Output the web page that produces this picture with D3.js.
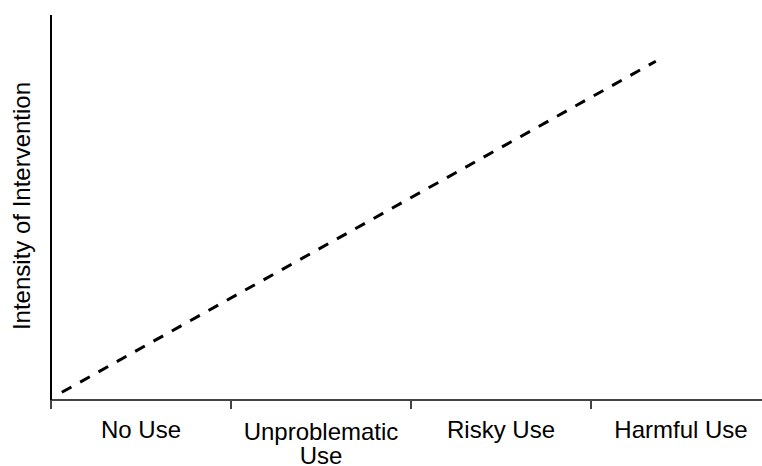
<!DOCTYPE html>
<html><head><meta charset="utf-8">
<script src="https://cdn.jsdelivr.net/npm/d3@7"></script>
<style>body{margin:0;background:#fff}svg{display:block}text{font-family:"Liberation Sans",Arial,sans-serif;fill:#000}</style>
</head><body><svg id="c" width="762" height="466"></svg>
<script>
const categories = ["No Use", "Unproblematic Use", "Risky Use", "Harmful Use"];
const lineX = [0.06, 3.36];
const lineY = [0.02, 0.88];
const yLabel = "Intensity of Intervention";

const svg = d3.select("#c");
const x0 = 51, x1 = 771, yTop = 15, yBot = 400;
const band = d3.scaleBand().domain(categories).range([x0, x1]);
const x = d3.scaleLinear().domain([0, categories.length]).range([x0, x1]);
const y = d3.scaleLinear().domain([0, 1]).range([yBot, yTop]);

// x axis
const gx = svg.append("g");
gx.append("line").attr("x1", x0).attr("x2", 762).attr("y1", yBot).attr("y2", yBot)
  .attr("stroke", "#444").attr("stroke-width", 2);
categories.forEach(c => {
  gx.append("line").attr("x1", band(c)).attr("x2", band(c)).attr("y1", yBot).attr("y2", yBot + 9)
    .attr("stroke", "#444").attr("stroke-width", 2);
});
categories.forEach(c => {
  const cx = band(c) + band.bandwidth() / 2;
  const t = gx.append("text").attr("text-anchor", "middle").attr("font-size", 24);
  if (c === "Unproblematic Use") {
    t.append("tspan").attr("x", cx).attr("y", 440).text("Unproblematic");
    t.append("tspan").attr("x", cx).attr("y", 464).text("Use");
  } else {
    t.attr("x", cx).attr("y", 438).text(c);
  }
});

// y axis
svg.append("line").attr("x1", x0).attr("x2", x0).attr("y1", yTop).attr("y2", yBot)
  .attr("stroke", "#000").attr("stroke-width", 2);
svg.append("text").attr("transform", `translate(30,206) rotate(-90)`)
  .attr("text-anchor", "middle").attr("font-size", 24).text(yLabel);

// dashed line
const pts = lineX.map((v, i) => [v, lineY[i]]);
svg.append("path").datum(pts)
  .attr("d", d3.line().x(d => x(d[0])).y(d => y(d[1])))
  .attr("fill", "none").attr("stroke", "#000").attr("stroke-width", 3)
  .attr("stroke-dasharray", "11,10");
</script></body></html>
